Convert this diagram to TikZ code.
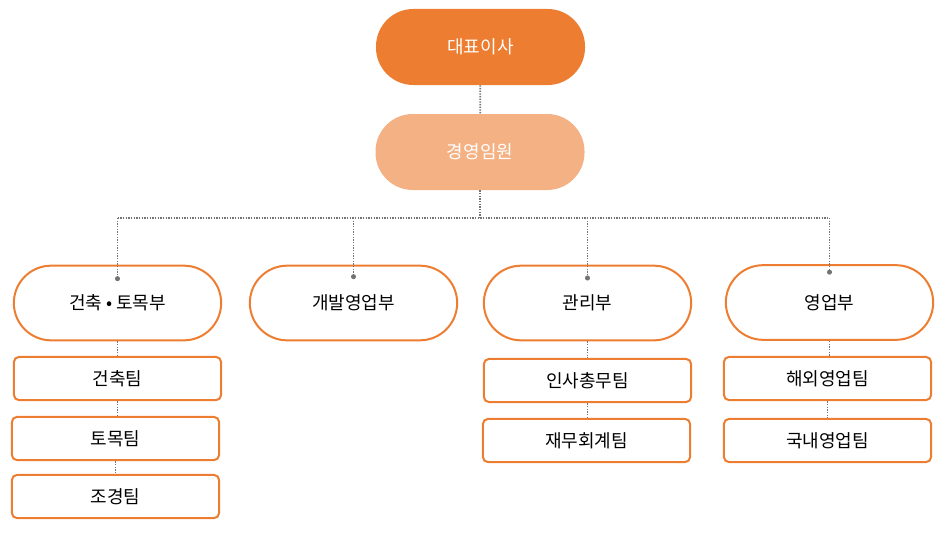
\documentclass[tikz,border=0pt]{standalone}
\usepackage{fontspec}
\newfontfamily\kr{Noto Sans CJK KR}
\usepackage{tikz}
\usetikzlibrary{arrows,shapes.geometric,shapes.misc}
\definecolor{boss}{RGB}{237,125,49}
\definecolor{exec}{RGB}{244,177,131}
\definecolor{wire}{RGB}{115,115,115}
\tikzset{
	head/.style={
		% The shape:
		shape=rectangle,rounded corners=28pt,
		% The size:
		minimum width=156.75pt,minimum height=57pt,
		% The rest
		draw=none,text=white,font=\kr\fontsize{13.5}{16}\selectfont,
	}}
\tikzset{
	dept/.style={
		% The shape:
		shape=rectangle,rounded corners=28pt,
		% The size:
		minimum width=155.5pt,minimum height=56pt,
		% The border:
		line width=1.5pt,
		draw=boss,
		font=\kr\fontsize{13.5}{16}\selectfont,
	}}
\tikzset{
	team/.style={
		% The shape:
		shape=rectangle,rounded corners=4pt,
		% The size:
		minimum width=155.5pt,minimum height=32.5pt,
		% The border:
		line width=1.5pt,
		draw=boss,
		font=\kr\fontsize{13.5}{16}\selectfont,
	}}
\tikzset{
	link/.style={wire,line width=1.3pt,dash pattern=on 1pt off 1pt},
	tip/.style={circle,fill=wire,inner sep=0pt,minimum size=3.8pt},
}

\begin{document}
\begin{tikzpicture}[x=0.75pt,y=-0.75pt]
				\useasboundingbox (0,0) rectangle (948,535);
				% top
				\node[head,fill=boss] (ceo) at (480.5,47) {대표이사};
				\node[head,fill=exec] (board) at (480,152) {경영임원};
				% departments
				\node[dept] (d1) at (117.5,303) {건축 • 토목부};
				\node[dept] (d2) at (353.5,303) {개발영업부};
				\node[dept] (d3) at (587.5,303) {관리부};
				\node[dept] (d4) at (829.5,302.5) {영업부};
				% teams
				\node[team] (t11) at (117.5,378.5) {건축팀};
				\node[team] (t12) at (115.5,438.5) {토목팀};
				\node[team] (t13) at (115.5,496.5) {조경팀};
				\node[team] (t31) at (587.5,380.5) {인사총무팀};
				\node[team] (t32) at (586.5,440.5) {재무회계팀};
				\node[team] (t41) at (827.5,378.5) {해외영업팀};
				\node[team] (t42) at (827.5,440.5) {국내영업팀};
				\coordinate (bus) at (480,218);
				\draw[link] (ceo) -- (board);
				\draw[link] (board) -- (bus);
				\draw[link] (d1.north |- bus) -- (d4.north |- bus);
				\foreach \d/\dy in {d1/-10.5pt,d2/-9pt,d3/-10pt,d4/-6pt}{
					\draw[link] (\d.north |- bus) -- ([yshift=\dy]\d.north) node[tip] {};
				}
				\draw[link] (d1.south) -- (d1.south |- t11.north);
				\draw[link] (t11.south) -- (t11.south |- t12.north);
				\draw[link] (t12.south) -- (t12.south |- t13.north);
				\draw[link] (d3.south) -- (d3.south |- t31.north);
				\draw[link] (t31.south) -- (t31.south |- t32.north);
				\draw[link] (d4.south) -- (d4.south |- t41.north);
				\draw[link] (t41.south) -- (t41.south |- t42.north);
				\end{tikzpicture}
\end{document}
